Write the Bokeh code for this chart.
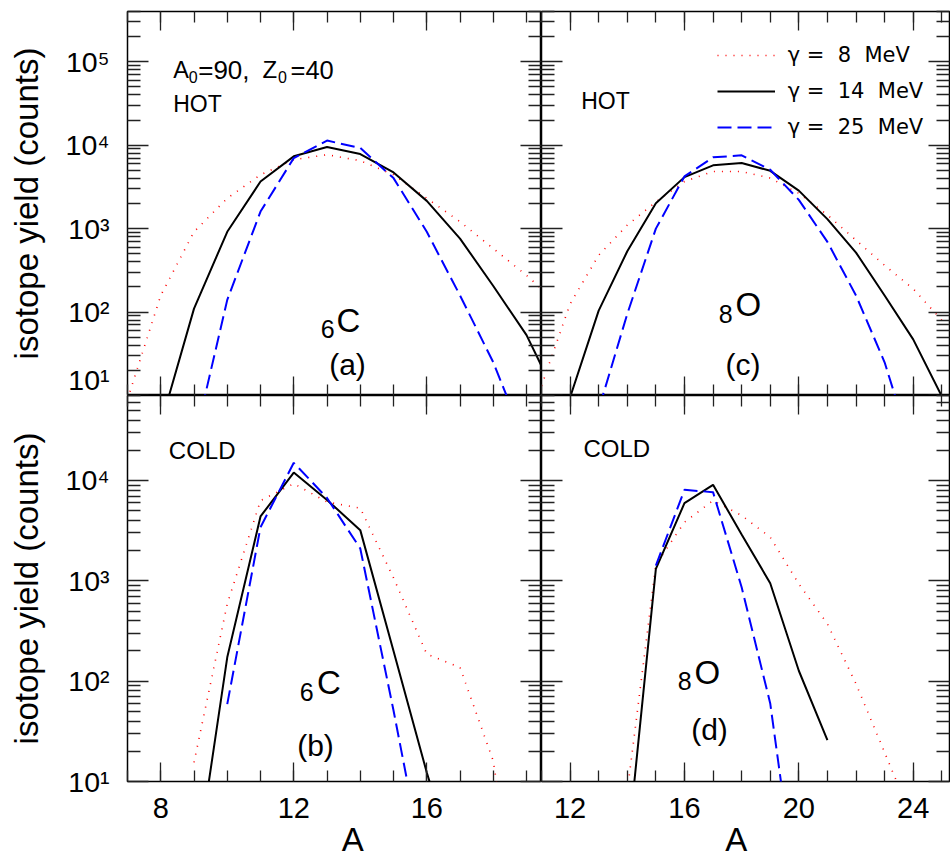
from math import pi
from bokeh.plotting import figure
from bokeh.layouts import gridplot
from bokeh.models import (Range1d, LinearAxis, LogAxis, FixedTicker, Label, Legend,
                          LegendItem, CustomJSTickFormatter)
from bokeh.embed import file_html
from bokeh.resources import INLINE

FONT = "Liberation Sans"

# ---------------- data (isotope yields, counts) ----------------
# panel (a): 6C, HOT
a_A_8 = [7, 8, 9, 10, 11, 12, 13, 14, 15, 16, 17, 18, 19, 20]
a_y_8 = [9, 158, 916, 2310, 4420, 6700, 7690, 6510, 4420, 2310, 1210, 577, 275, 120]
a_A_14 = [7, 8, 9, 10, 11, 12, 13, 14, 15, 16, 17, 18, 19, 20]
a_y_14 = [0.3, 4.5, 110, 916, 3670, 7350, 9520, 7830, 4710, 2150, 760, 205, 53, 8]
a_A_25 = [8, 9, 10, 11, 12, 13, 14, 15, 16, 17, 18, 19]
a_y_25 = [0.1, 2.7, 140, 1600, 7000, 11350, 9270, 4030, 916, 158, 25, 2.5]

# panel (c): 8O, HOT
c_A_8 = [11, 12, 13, 14, 15, 16, 17, 18, 19, 20, 21, 22, 23, 24, 25]
c_y_8 = [13, 125, 480, 1100, 2090, 3670, 4840, 4840, 4030, 2650, 1460, 726, 363, 190, 80]
c_A_14 = [11, 12, 13, 14, 15, 16, 17, 18, 19, 20, 21, 22, 23, 24, 25]
c_y_14 = [0.8, 9.5, 104, 535, 2010, 4140, 5730, 6110, 4930, 2850, 1300, 516, 158, 47, 9.8]
c_A_25 = [12, 13, 14, 15, 16, 17, 18, 19, 20, 21, 22, 23, 24]
c_y_25 = [0.3, 6.8, 95, 1000, 4220, 7150, 7550, 5080, 2210, 693, 158, 25, 2]

# panel (b): 6C, COLD
b_A_8 = [9, 10, 11, 12, 13, 14, 15, 16, 17, 18, 19]
b_y_8 = [15.5, 590, 6300, 9300, 6100, 5300, 1070, 186, 137, 16, 0.1]
b_A_14 = [9, 10, 11, 12, 13, 14, 15, 16, 17]
b_y_14 = [1, 173, 4380, 12000, 6400, 3200, 200, 12.3, 1]
b_A_25 = [10, 11, 12, 13, 14, 15, 16]
b_y_25 = [59, 3420, 15000, 6700, 2100, 51, 1]

# panel (d): 8O, COLD
d_A_8 = [14, 15, 16, 17, 18, 19, 20, 21, 22, 23, 24]
d_y_8 = [8, 1450, 3840, 6310, 4480, 2720, 931, 372, 94, 19.5, 4]
d_A_14 = [14, 15, 16, 17, 18, 19, 20, 21]
d_y_14 = [2, 1315, 5940, 9050, 2900, 946, 127, 25.9]
d_A_25 = [15, 16, 17, 18, 19, 20]
d_y_25 = [1420, 8070, 7650, 863, 60, 0.5]

series_labels = ["\u03b3 = \u00a08\u00a0 MeV", "\u03b3 = \u00a014\u00a0 MeV", "\u03b3 = \u00a025\u00a0 MeV"]

# ticks
y_major_top = [10, 100, 1000, 10000, 100000]
y_major_bot = [10, 100, 1000, 10000]
y_minor = [m * d for d in [10, 100, 1000, 10000, 100000] for m in range(2, 10)]
x_major_left = [8, 12, 16]
x_minor_left = list(range(7, 20))
x_major_right = [12, 16, 20, 24]
x_minor_right = list(range(11, 26))

y_title = "isotope yield (counts)"
x_title_left = "\u00a0\u00a0\u00a0\u00a0A"   # title sits right of the panel centre
x_title_right = "A\u00a0\u00a0"               # title sits left of the panel centre

# ---------------- layout geometry (canvas px) ----------------
FRAME = {"a": (127, 395), "c": (541, 395), "b": (127, 781), "d": (541, 781)}

POW_FMT = CustomJSTickFormatter(code="""
const sup = ['\u2070','\u00b9','\u00b2','\u00b3','\u2074','\u2075','\u2076'];
const k = Math.round(Math.log10(tick));
return '10' + sup[k];
""")


def style_axis(ax, maj, mnr, labelled=False):
    if not labelled:
        ax.formatter = CustomJSTickFormatter(code="return ''")
        ax.major_label_text_font_size = "0px"
        ax.major_label_standoff = 0
    ax.major_tick_out = 0
    ax.minor_tick_out = 0
    ax.major_tick_in = maj
    ax.minor_tick_in = mnr
    ax.axis_line_color = None
    ax.major_tick_line_color = "#222222"
    ax.minor_tick_line_color = "#222222"
    ax.major_tick_line_width = 1.3
    ax.minor_tick_line_width = 1.3


def panel(xr, yr, fw, fh, bl, br, bt, bb, xmaj, xmin, ymaj, left_lab, bottom_title):
    p = figure(frame_width=fw, frame_height=fh, x_range=xr, y_range=yr, y_axis_type="log",
               x_axis_location=None, y_axis_location=None, toolbar_location=None,
               output_backend="svg", min_border_left=bl, min_border_right=br,
               min_border_top=bt, min_border_bottom=bb)
    p.outline_line_color = "black"
    p.outline_line_width = 1.5
    p.background_fill_color = "white"
    p.border_fill_color = "white"
    for loc in ("left", "right"):
        ax = LogAxis(ticker=FixedTicker(ticks=ymaj, minor_ticks=y_minor))
        lab = (loc == "left" and left_lab)
        style_axis(ax, 21, 13, labelled=lab)
        if lab:
            ax.formatter = POW_FMT
            ax.major_label_text_font = FONT
            ax.major_label_text_font_size = "28.5px"
            ax.major_label_text_color = "black"
            ax.major_label_standoff = 18
            ax.axis_label = y_title
            ax.axis_label_text_font = FONT
            ax.axis_label_text_font_size = "33px"
            ax.axis_label_text_font_style = "normal"
            ax.axis_label_text_color = "black"
            ax.axis_label_standoff = 18
        p.add_layout(ax, loc)
    for loc in ("below", "above"):
        ax = LinearAxis(ticker=FixedTicker(ticks=xmaj, minor_ticks=xmin))
        lab = (loc == "below" and bottom_title is not None)
        style_axis(ax, 19, 11, labelled=lab)
        if lab:
            ax.major_label_text_font = FONT
            ax.major_label_text_font_size = "29px"
            ax.major_label_text_color = "black"
            ax.major_label_standoff = 16
            ax.axis_label = bottom_title
            ax.axis_label_text_font = FONT
            ax.axis_label_text_font_size = "33px"
            ax.axis_label_text_font_style = "normal"
            ax.axis_label_text_color = "black"
            ax.axis_label_standoff = 0
        p.add_layout(ax, loc)
    p.grid.visible = False
    return p


def put(p, key, text, px, py, size, align="left", baseline="alphabetic", angle=0.0):
    fl, fb = FRAME[key]
    p.add_layout(Label(x=px - fl, y=fb - py, x_units="screen", y_units="screen", text=text,
                       text_font=FONT, text_font_size=f"{size}px", text_align=align,
                       text_baseline=baseline, angle=angle, text_color="black"))


def curves(p, A8, y8, A14, y14, A25, y25):
    r8 = p.line(A8, y8, line_color="red", line_width=1.6, line_dash="1 7")
    r14 = p.line(A14, y14, line_color="black", line_width=2)
    r25 = p.line(A25, y25, line_color="blue", line_width=2, line_dash="14 6")
    return r8, r14, r25


xl = Range1d(7.0, 19.45)
xr_ = Range1d(11.0, 25.27)
yt = Range1d(10, 4.0e5)
yb = Range1d(10, 7.03e4)

pa = panel(xl, yt, 414, 384, 127, 0, 11, 0, x_major_left, x_minor_left, y_major_top, True, None)
pc = panel(xr_, yt, 408, 384, 0, 1, 11, 0, x_major_right, x_minor_right, y_major_top, False, None)
pb = panel(xl, yb, 414, 386, 127, 0, 0, 77, x_major_left, x_minor_left, y_major_bot, True, x_title_left)
pd = panel(xr_, yb, 408, 386, 0, 1, 0, 77, x_major_right, x_minor_right, y_major_bot, False, x_title_right)

curves(pa, a_A_8, a_y_8, a_A_14, a_y_14, a_A_25, a_y_25)
rc = curves(pc, c_A_8, c_y_8, c_A_14, c_y_14, c_A_25, c_y_25)
curves(pb, b_A_8, b_y_8, b_A_14, b_y_14, b_A_25, b_y_25)
curves(pd, d_A_8, d_y_8, d_A_14, d_y_14, d_A_25, d_y_25)

# legend
leg = Legend(items=[LegendItem(label=lbl, renderers=[r]) for lbl, r in zip(series_labels, rc)],
             location=(175.7, 252), orientation="vertical", glyph_width=58, glyph_height=32,
             label_height=32, spacing=4, padding=0, margin=0, label_standoff=13,
             label_text_font="DejaVu Sans", label_text_font_size="21px",
             label_text_color="black", border_line_color=None, background_fill_alpha=0)
pc.add_layout(leg)

# panel annotations
put(pa, "a", "A", 172.7, 69.3, 23.5)
put(pa, "a", "0", 188.3, 76.7, 16)
put(pa, "a", "=90,", 197.7, 69.3, 26)
put(pa, "a", "Z", 262, 69.3, 24)
put(pa, "a", "0", 277.5, 76.7, 16)
put(pa, "a", "=40", 290, 69.3, 25.5)
put(pa, "a", "HOT", 172.7, 103.3, 23)
put(pa, "a", "6", 320.2, 328.3, 25)
put(pa, "a", "C", 335.9, 320, 33)
put(pa, "a", "(a)", 347, 363.7, 30, align="center")

put(pc, "c", "HOT", 580.7, 100, 23)
put(pc, "c", "8", 718.3, 313.3, 25)
put(pc, "c", "O", 735, 304, 33)
put(pc, "c", "(c)", 742.5, 363.7, 30, align="center")

put(pb, "b", "COLD", 168.3, 450, 24)
put(pb, "b", "6", 299.3, 691.7, 25)
put(pb, "b", "C", 316.6, 681.7, 33)
put(pb, "b", "(b)", 315, 745.4, 30, align="center")

put(pd, "d", "COLD", 583, 448, 24)
put(pd, "d", "8", 677.3, 680, 25)
put(pd, "d", "O", 694, 672, 33)
put(pd, "d", "(d)", 709, 728.7, 30, align="center")

grid = gridplot([[pa, pc], [pb, pd]], toolbar_location=None)

open("out.html", "w").write(file_html(grid, INLINE))
